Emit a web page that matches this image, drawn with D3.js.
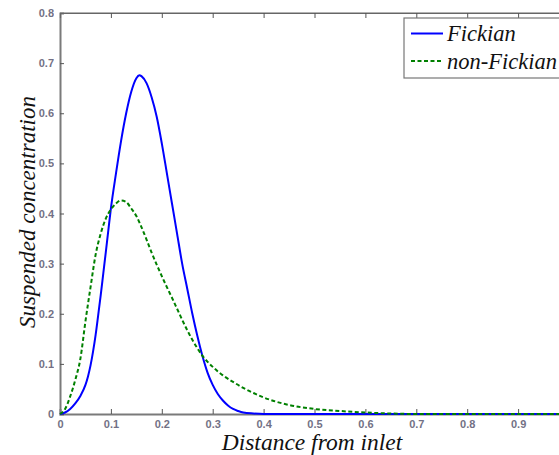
<!DOCTYPE html>
<html><head><meta charset="utf-8">
<script src="https://cdn.jsdelivr.net/npm/d3@7"></script>
<style>html,body{margin:0;padding:0;background:#fff;overflow:hidden}</style>
</head><body>
<svg id="chart" width="559" height="455"></svg>
<script>
const xTicks = [0,0.1,0.2,0.3,0.4,0.5,0.6,0.7,0.8,0.9];
const yTicks = [0,0.1,0.2,0.3,0.4,0.5,0.6,0.7,0.8];
const seriesNames = ["Fickian","non-Fickian"];
const fickX = [0,0.01,0.02,0.03,0.04,0.05,0.055,0.06,0.065,0.07,0.075,0.08,0.085,0.09,0.095,0.10,0.11,0.12,0.13,0.14,0.15,0.156,0.16,0.17,0.18,0.19,0.20,0.21,0.22,0.23,0.24,0.25,0.26,0.27,0.28,0.29,0.30,0.31,0.32,0.33,0.34,0.35,0.36,0.38,0.40,0.5,0.6,0.7,0.8,0.9,1.0];
const fickY = [0,0.003,0.01,0.021,0.036,0.058,0.075,0.097,0.125,0.158,0.197,0.237,0.28,0.323,0.367,0.41,0.48,0.545,0.60,0.643,0.67,0.676,0.674,0.66,0.632,0.593,0.54,0.48,0.42,0.36,0.30,0.25,0.20,0.155,0.115,0.082,0.058,0.04,0.027,0.017,0.01,0.006,0.003,0.001,0,0,0,0,0,0,0];
const nonFickX = [0,0.01,0.02,0.03,0.04,0.05,0.06,0.07,0.08,0.09,0.10,0.11,0.12,0.13,0.14,0.15,0.16,0.17,0.18,0.19,0.20,0.21,0.22,0.23,0.24,0.25,0.26,0.27,0.28,0.29,0.30,0.31,0.32,0.34,0.36,0.38,0.40,0.42,0.45,0.50,0.55,0.60,0.65,0.70,0.8,0.9,1.0];
const nonFickY = [0,0.01,0.035,0.068,0.11,0.185,0.253,0.318,0.36,0.39,0.408,0.42,0.426,0.423,0.41,0.395,0.373,0.348,0.322,0.298,0.275,0.253,0.232,0.21,0.188,0.167,0.148,0.131,0.116,0.104,0.094,0.085,0.077,0.064,0.052,0.042,0.033,0.026,0.018,0.01,0.006,0.003,0.001,0,0,0,0];

const svg = d3.select("#chart");
const x = d3.scaleLinear().domain([0,1]).range([60,569]);
const y = d3.scaleLinear().domain([0,0.8]).range([414,13]);

svg.append("line").attr("x1",x(0)).attr("x2",569).attr("y1",y(0.8)).attr("y2",y(0.8))
  .attr("stroke","#666").attr("stroke-width",1.2);

const gx = svg.append("g").attr("transform","translate(0,"+y(0)+")")
  .call(d3.axisBottom(x).tickValues(xTicks).tickSize(-5).tickPadding(6).tickFormat(d=>d===0?"0":d3.format(".1f")(d)));
const gy = svg.append("g").attr("transform","translate("+x(0)+",0)")
  .call(d3.axisLeft(y).tickValues(yTicks).tickSize(-4).tickPadding(6).tickFormat(d=>d===0?"0":d3.format(".1f")(d)));
const gt = svg.append("g").attr("transform","translate(0,"+y(0.8)+")")
  .call(d3.axisTop(x).tickValues(xTicks.slice(1)).tickSize(-5).tickFormat(""));
[gx,gy,gt].forEach(g=>{
  g.select(".domain").attr("stroke","#7a7a7a").attr("stroke-width",2);
  g.selectAll(".tick line").attr("stroke","#555");
  g.selectAll("text").attr("fill","#5a5870").attr("font-family","Liberation Sans, Arial, sans-serif").attr("font-size",11).attr("font-weight","bold").attr("opacity",0.85);
});
gt.select(".domain").attr("stroke","#666").attr("stroke-width",1.2);

const line = d3.line().x(d=>x(d[0])).y(d=>y(d[1])).curve(d3.curveMonotoneX);
const fick = fickX.map((v,i)=>[v,fickY[i]]);
const nonFick = nonFickX.map((v,i)=>[v,nonFickY[i]]);

svg.append("path").datum(fick).attr("d",line).attr("fill","none")
  .attr("stroke","#0000ff").attr("stroke-width",2);
svg.append("path").datum(nonFick).attr("d",line).attr("fill","none")
  .attr("stroke","#008000").attr("stroke-width",2).attr("stroke-dasharray","4,2.5");

// legend
const lg = svg.append("g");
lg.append("rect").attr("x",404).attr("y",18).attr("width",170).attr("height",60)
  .attr("fill","#fff").attr("stroke","#777").attr("stroke-width",1.2);
const items = [{name:seriesNames[0],color:"#0000ff",dash:null,yy:33.5},{name:seriesNames[1],color:"#008000",dash:"4,2.5",yy:61}];
items.forEach(it=>{
  lg.append("line").attr("x1",411).attr("x2",443).attr("y1",it.yy).attr("y2",it.yy)
    .attr("stroke",it.color).attr("stroke-width",2).attr("stroke-dasharray",it.dash);
  lg.append("text").attr("x",447).attr("y",it.yy+7.5).text(it.name)
    .attr("font-family","Liberation Serif, Times New Roman, serif").attr("font-style","italic")
    .attr("font-size",22.5).attr("fill","#111");
});

// axis labels
svg.append("text").attr("x",312).attr("y",450).attr("text-anchor","middle")
  .attr("font-family","Liberation Serif, Times New Roman, serif").attr("font-style","italic")
  .attr("font-size",23.5).attr("fill","#111").text("Distance from inlet");
svg.append("text").attr("transform","translate(35,212) rotate(-90)").attr("text-anchor","middle")
  .attr("font-family","Liberation Serif, Times New Roman, serif").attr("font-style","italic")
  .attr("font-size",23).attr("fill","#111").text("Suspended concentration");
</script>
</body></html>
